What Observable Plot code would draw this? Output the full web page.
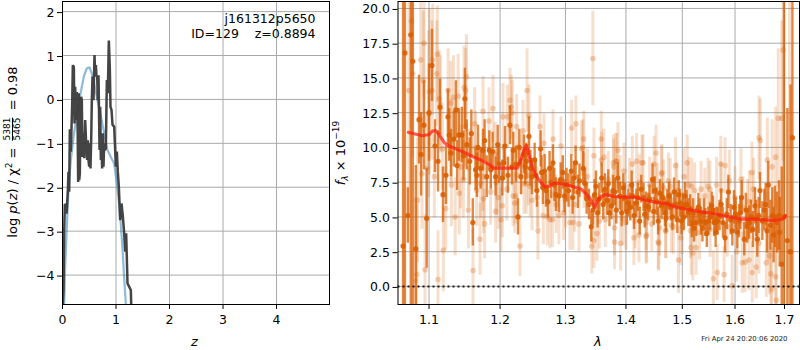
<!DOCTYPE html>
<html><head><meta charset="utf-8">
<script src="https://cdn.jsdelivr.net/npm/d3@7"></script>
<script src="https://cdn.jsdelivr.net/npm/@observablehq/plot@0.6"></script>
<style>
html,body{margin:0;padding:0;background:#fff}
#wrap{position:relative;width:800px;height:350px;overflow:hidden;font-family:"DejaVu Sans",sans-serif;color:#000}
#left,#right{position:absolute;top:0}
#left{left:0}#right{left:340px}
svg{display:block;background:transparent}
.lab{position:absolute;white-space:nowrap;font-size:13px;line-height:1}
.rot{transform:translate(-50%,-50%) rotate(-90deg);display:flex;align-items:center}
.frac{display:inline-flex;flex-direction:column;align-items:center;font-size:9px;line-height:8.5px;margin:0 3px}
.frac span:first-child{border-bottom:1px solid #000;padding-bottom:0}
i{font-style:oblique}
sub,sup{font-size:9px;line-height:0}
</style></head><body>
<div id="wrap">
<div id="left"></div><div id="right"></div>
<div class="lab rot" style="left:12px;top:152px"><span>log&nbsp;<i>p</i>(<i>z</i>)&nbsp;/&nbsp;χ<sup>2</sup>&nbsp;=&nbsp;</span><span class="frac"><span>5381</span><span>5465</span></span><span>&nbsp;=&nbsp;0.98</span></div>
<div class="lab rot" style="left:340px;top:153px"><span><i>f</i><sub><i>λ</i></sub>&nbsp;×&nbsp;10<sup>−19</sup></span></div>
<div class="lab" style="left:191px;top:335px"><i>z</i></div>
<div class="lab" style="left:594px;top:335px"><i>λ</i></div>
<div class="lab" style="right:12.5px;top:336px;font-size:6.9px;color:#222">Fri Apr 24 20:20:06 2020</div>
</div>
<script>
const zTicks=[0,1,2,3,4];
const pTicks=[-4,-3,-2,-1,0,1,2];
const waveTicks=[1.1,1.2,1.3,1.4,1.5,1.6,1.7];
const fluxTicks=[0,2.5,5,7.5,10,12.5,15,17.5,20];

const pzZ=[.006,.019,.031,.044,.062,.075,.087,.1,.112,.125,
.137,.156,.168,.181,.193,.212,.224,.237,.255,.268,
.28,.293,.305,.312,.324,.336,.349,.361,.374,.386,
.405,.424,.442,.461,.474,.486,.498,.511,.523,.536,
.548,.561,.579,.598,.611,.623,.636,.648,.66,.673,
.692,.704,.717,.729,.741,.754,.766,.779,.791,.81,
.829,.847,.866,.885,.897,.916,.935,.966,.997,1.016,
1.034,1.053,1.078,1.103,1.128,1.153,1.171,1.19,1.215,1.252,
1.277,1.284];
const pzLog=[-4.66,-4.34,-3.05,-2.38,-2.41,-2.6,-2.37,-2.07,-1.65,-2.1,
-.68,-1.19,-.66,-.09,.78,.74,-.55,.29,-.47,.17,
-.32,-1.88,.14,-1.84,-1.69,-.39,.06,-.02,-1.31,-.77,
-1.34,-.47,-1,-1.38,-.93,-1.38,-1.53,-1,-1.57,-.93,
-.02,.52,-.02,1.01,.52,.78,.52,.55,-.02,.55,
-1.15,-.17,-1.38,-1.08,-1.57,-.77,-1.53,-1,-1.15,-1.12,
.44,.14,1.34,.67,-.17,-.24,-.58,-.62,-1.53,-1.19,
-1.65,-1.99,-2.75,-2.37,-2.67,-3.05,-3.47,-3.05,-4.19,-4.28,
-4.34,-4.66];
const fitZ=[.031,.05,.081,.112,.156,.206,.255,.305,.361,.405,.455,.505,.548,.598,.654,.717,.779,.841,.903,.966,1.016,1.065,1.115,1.159,1.184];
const fitLog=[-4.66,-3.81,-2.9,-2.06,-1.38,-.85,-.47,-.09,.29,.55,.71,.73,.59,.32,-.02,-.39,-.77,-1.15,-1.31,-1.46,-1.91,-2.44,-3.28,-4.19,-4.66];

const darkWave=[1.0656,1.068,1.0718,1.0757,1.0783,1.0823,1.0866,1.0893,1.0933,1.0969,
1.1,1.104,1.1081,1.1122,1.1149,1.119,1.1231,1.1258,1.13,1.134,
1.1368,1.141,1.1451,1.1494,1.152,1.1563,1.1606,1.1645,1.168,1.1718,
1.1752,1.1805,1.1843,1.1891,1.1935,1.1984,1.2033,1.2072,1.2117,1.2146,
1.2196,1.2236,1.2266,1.2311,1.2357,1.2392,1.2432,1.2478,1.2519,1.2554,
1.2611,1.2647,1.2673,1.2724,1.2776,1.2803,1.285,1.2898,1.2958,1.3018,
1.3093,1.3135,1.3163,1.3201,1.3287,1.3342,1.3418,1.3445,1.3472,1.3522,
1.359,1.3644,1.3684,1.372,1.3778,1.3835,1.3862,1.3926,1.3981,1.4041,
1.4098,1.4139,1.4179,1.4238,1.4304,1.4349,1.4388,1.4463,1.4503,1.4563,
1.4624,1.4684,1.4726,1.4789,1.4849,1.4909,1.4958,1.5007,1.505,1.5112,
1.5175,1.5217,1.5298,1.5348,1.5405,1.5457,1.5487,1.555,1.5595,1.564,
1.5666,1.573,1.5806,1.5871,1.5948,1.6014,1.608,1.6131,1.6183,1.6242,
1.6316,1.6396,1.6443,1.6497,1.6585,1.6612,1.6666,1.6748,1.6803,1.6886,
1.6942,1.699,1.706,1.7125,1.7165,
1.1275,1.1385,1.1475,1.1585,1.1665,1.1775,1.1865,1.1965,1.2055,1.2175,
1.2285,1.2375,1.2455,1.2535,1.2625,1.2695,1.275,1.2825,1.2925,1.2985,
1.305,1.3115,1.3225,1.3315,1.338,1.3495,1.355,1.3615,1.37,1.3755,
1.381,1.3895,1.3955,1.4015,1.4075,1.4115,1.4205,1.4265,1.4325,1.441,
1.4485,1.4535,1.4595,1.465,1.4705,1.476,1.482,1.488,1.4935,1.4985,
1.503,1.508,1.5145,1.52,1.526,1.532,1.5375,1.543,1.552,1.5575,
1.5625,1.57,1.5765,1.584,1.5915,1.598,1.6045,1.6105,1.6215,1.628,
1.6355,1.642,1.647,1.6545,1.664,1.671,1.6775,1.6845,1.69];
const darkFlux=[2.9,16.8,5.1,18.1,16.2,2.7,12,9.5,11.6,4.9,
12.5,15.9,10.1,9,12.9,6.6,8,12.2,9.6,10.6,
12.7,10.9,10.9,13.5,10.2,9,4.6,8.4,10,8.5,
9.8,7.9,9.8,9.7,7.9,8.8,7.8,10.1,8,11.6,
9.8,8.8,5,7.9,9.5,9,10.8,7.9,9.1,6.9,
9.9,7.1,8.3,6.1,7.5,8.9,6.6,6.5,8.2,7.3,
8.3,7.8,8.9,6.8,8.5,6.3,4.3,5.5,6.6,5.3,
7.8,7,6.2,5.3,6.9,5.5,7.8,5.3,6.4,6,
7.3,5.1,6,4.7,6.4,5.8,5.7,7.7,6.9,4.7,
5.8,5.3,6,5.7,6.8,4.8,6,5.7,6.5,5.3,
4.5,4.2,5.7,4.7,5.3,3.8,4.7,5.8,4.6,4.7,
4.7,5.9,3.5,6.8,4,5.2,4.7,6.4,3.4,4.3,
5,5.8,3.4,6.9,5.5,5.9,7.3,5.1,5,5.1,
1.6,5,3.3,2.5,10.7,
10.9,8.7,9.4,11,8,10.5,8.4,10.2,8.9,8.6,
10,8.6,8.5,8,8.2,6.9,8.5,7.3,7.7,6.5,
6.9,6.4,7.6,7.4,5.9,7.2,6.3,5.9,7.4,5.8,
6.8,6.5,7.1,5.4,5.7,6.5,6.4,7,5.2,6.3,
5.4,6.1,6.7,6.4,4.9,6.5,5,5.9,6.6,4.7,
5,5.9,5.6,5.3,4.6,5.3,4.2,4.6,5,5.5,
3.9,5.1,4.6,5.2,4.8,5.7,3.9,5.3,5.5,4.6,
4.1,4.9,5.1,4.7,4,4.4,3.7,4.6,3.9];
const darkErr=[30,30,2,26,26,6,3.2,3,3.2,3.6,
3.5,2.6,1.9,2.2,2,2,2.1,2,1.7,2,
2.1,1.9,2,2.2,1.8,1.7,1.7,1.5,1.6,1.5,
1.5,1.5,1.4,1.4,1.4,1.4,1.3,1.4,1.3,1.4,
1.3,1.3,1.3,1.3,1.4,1.3,1.4,1.3,1.2,1.2,
1.3,1.2,1.2,1.2,1.2,1.3,1.2,1.2,1.2,1.2,
1.2,1.2,1.2,1.2,1.2,1.1,1.1,1.1,1.1,1.1,
1.1,1.1,1.1,1,1.1,1,1.1,1,1,1,
1,1,1,1,1,1,1,1.1,1,1,
1,1,1,1,1,1,1,1,1,1,
1,1,1,1,1,1,1,1,1,1,
1,1.1,1.1,1.2,1.1,1.2,1.2,1.2,1.2,1.2,
1.2,1.3,1.3,1.3,1.5,1.5,1.7,2,2.2,2.5,
7,30,9.5,12,30,
1.9,1.8,1.8,1.7,1.6,1.5,1.4,1.4,1.3,1.3,
1.3,1.3,1.3,1.2,1.2,1.2,1.2,1.2,1.2,1.2,
1.2,1.2,1.2,1.1,1.1,1.1,1.1,1.1,1,1,
1,1,1,1,1,1,1,1,1,1,
1,1,1,1,1,1,1,1,1,1,
1,1,1,1,1,1,1,1,1,1,
1.1,1.1,1.1,1.1,1.1,1.2,1.2,1.2,1.2,1.2,
1.3,1.3,1.3,1.4,1.6,1.8,2,2.2,2.5];

const lightWave=[1.0731,1.0766,1.0784,1.0823,1.0836,1.0845,1.0889,1.0906,1.0924,1.0933,
1.0946,1.0969,1.0996,1.1004,1.1041,1.1049,1.1072,1.1104,1.1113,1.1122,
1.114,1.1158,1.1181,1.1194,1.1227,1.126,1.1297,1.1306,1.1335,1.1358,
1.14,1.1415,1.1435,1.1472,1.1482,1.1506,1.1516,1.1544,1.1552,1.1609,
1.1632,1.1646,1.166,1.1708,1.1718,1.1752,1.1757,1.1775,1.1838,1.1862,
1.1896,1.1925,1.1935,1.1974,1.2013,1.2033,1.2043,1.2107,1.2146,1.2166,
1.2181,1.2191,1.2217,1.2246,1.2256,1.2296,1.2316,1.2342,1.2357,1.2392,
1.2403,1.2423,1.2432,1.2478,1.257,1.2601,1.2652,1.2663,1.2713,1.2756,
1.2803,1.2897,1.2929,1.3072,1.3099,1.3168,1.3217,1.3295,1.3281,1.326,
1.3353,1.3444,1.3461,1.3584,1.3627,1.3786,1.3825,1.3864,1.3966,1.4109,
1.4184,1.4296,1.4489,1.4525,1.463,1.4746,1.4877,1.5034,1.5091,1.5724,
1.5807,1.3426,1.3461,1.3511,1.3551,1.3806,1.3909,1.4137,1.4224,1.4359,
1.4573,1.4701,1.493,1.5163,1.5255,1.5194,1.5581,1.5655,1.5788,1.5944,
1.6141,1.62,1.6276,1.6342,1.6419,1.6625,1.6691,1.6717,1.6737,1.683,
1.6817,1.6477,1.6503,1.6646,1.6744,1.6817,1.687,1.6944,1.6971,1.7104,
1.4277,1.4624,1.5175,1.5515,1.5645,1.4349,1.4563,1.4696,1.4836,1.4971,
1.3587,1.3793,1.3844,1.3804,1.4,1.223,1.2794,1.2968,1.3119,1.589,
1.6,1.6117,1.6335,1.6368,1.6285,1.6154,1.6248,1.6477,1.6033,1.6658,
1.4412,1.455,1.466,1.478,1.49,1.512,1.523,1.535,1.542,1.548,
1.445,1.459,1.48,1.5,1.515,1.532,1.552,1.573,1.585,1.37,
1.39,1.406,1.423,1.365,1.395,1.416,1.435,1.33,1.315,1.3,
1.285,1.256,1.245,1.21,1.195,1.175,1.15,1.13];
const lightFlux=[14.1,19.1,15.3,.4,.85,6.2,16.3,8.1,14.8,17.5,
1.2,8.5,12.4,14,14.1,16.3,7.9,15.3,16.7,.5,
13.5,13.1,9.9,2.6,5.6,14.1,13.2,7.3,13.6,5,
13.7,6.7,8.6,7.7,14.3,14.1,15.1,5.5,8.5,1.15,
11.7,10,6.9,3.4,7.4,12.6,6.3,4.5,11.9,6.8,
12.8,9.5,5.4,6.4,4.8,5.8,12.2,12.2,13.4,12.9,
12.5,6.5,6,11.5,8,2.9,8.8,11.2,7.4,7.4,
14.1,8,12.3,6.2,4,11.5,5.1,10.3,5,4.8,
10.6,5.1,10.1,4.6,11.4,11.7,4.5,10.6,10,9.9,
7.9,16.4,9.4,10.6,9.3,8.9,9,9.8,8.3,8.8,
9,8.9,8.8,9.6,8.2,7.6,8.7,7.9,8.9,8.8,
8.7,2.9,3.3,3.8,4.7,3.2,3.1,3.5,3.7,3.7,
3.1,4,1.9,2.8,2.8,2.4,.55,1,.85,.05,
1.7,1.75,1.9,1,1.4,1.7,2.2,.9,-.2,-1,
.7,10.7,10.5,9.1,8.6,9.3,12.1,12.1,17,2.5,
8.9,8.1,7.2,7,7.3,3.6,3.2,4,4.3,3.5,
9.1,8.6,9,4.2,4.6,6.5,4.8,5.3,4.6,7.6,
6.4,7.7,8.2,7,6.1,5.7,5.5,3.1,2.5,4.3,
7.3,6.8,7.1,7.2,6.9,7.3,6.9,7,6.5,7.2,
4.5,4.2,4.4,4.3,4,3.9,4.1,6.9,4.3,7.7,
7.4,7.2,7.5,4.8,4.9,4.7,4.6,7.6,5.9,6.2,
5.9,6.4,7.2,7,7.5,7.9,11.5,10.5];
const lightErr=[9,8,6,6,5,4.5,5,4,5,4,
4,3.8,6,6,5,4,3,3.8,3.5,3.5,
3.5,3.5,3,3,3,3,3,3,3,2.8,
3,3,3,2.8,3,3,3,2.8,2.8,3,
2.6,2.6,2.6,2.6,2.5,2.5,2.5,2.5,2.4,2.4,
2.4,2.3,2.3,2.3,2.3,2.3,2.4,2.3,2.3,2.3,
2.3,2.2,2.2,2.3,2.2,2.2,2.2,2.2,2.2,2.2,
3,2.2,2.2,2.2,2.1,2.2,2.1,2.1,2.1,2.1,
2.1,2.1,2.1,2,2,2,2,2,2,2,
2,3.4,2,2,2,2,2,2,2,2,
2,2,2,2,2,2,2,2,2,2,
2,2,2,2,2,2,2,2,2,2,
2,2,2.4,2,2,2,2,2,2,2.2,
2.2,2.2,2.2,2.2,2.3,2.5,2.8,2.8,3,5,
4,3,3,3,3.4,3.6,5,7,8,20,
2,2,2,2,2,2,2,2,2,2,
2,2,2,2,2,2,2,2,2,2.2,
2.2,2.2,2.2,2.2,2.2,2.2,2.2,2.2,2.2,2.5,
2,2,2,2,2,2,2,2,2,2,
2,2,2,2,2,2,2,2,2.2,2,
2,2,2,2,2,2,2,2,2,2,
2.1,2.2,2.2,2.3,2.4,2.5,2.9,3];

const modelWave=[1.0725,1.08,1.091,1.1,1.1045,1.1086,1.1135,1.1204,1.1259,1.1365,1.1481,1.1599,1.1718,1.1838,1.1911,1.2033,1.2156,1.2256,1.2306,1.2357,1.2392,1.2432,1.2483,1.2534,1.2611,1.2678,1.274,1.2818,1.2924,1.3029,1.3135,1.3244,1.3322,1.3381,1.3431,1.3476,1.3517,1.3577,1.3662,1.3792,1.3966,1.4137,1.4309,1.4515,1.472,1.4877,1.5034,1.5284,1.5597,1.5917,1.6141,1.6419,1.6744,1.6905,1.6971,1.702];
const modelFlux=[11.08,10.98,10.84,10.93,11.17,11.22,10.93,10.38,10.14,9.9,9.66,9.35,9.11,8.78,8.51,8.51,8.51,8.51,9.06,9.83,10.14,9.42,8.6,8,7.5,7.15,7.2,7.43,7.41,7.31,7.15,7.03,6.71,6.43,6.02,5.71,6.12,6.47,6.62,6.47,6.43,6.43,6.24,6.07,5.95,5.71,5.59,5.42,5.23,4.99,4.84,4.84,4.75,4.8,4.87,5.1];

const titleLines=["j161312p5650","ID=129\u00a0\u00a0\u00a0\u00a0z=0.8894"];
const gridColor="#aaaaaa", orange="#d95f02";
const font={fontFamily:"'DejaVu Sans',sans-serif",fontSize:"12.5px",background:"transparent",color:"#000"};
const range=a=>a.map((_,i)=>i);

const left=Plot.plot({
  width:340,height:350,marginLeft:62,marginRight:11,marginTop:1,marginBottom:46,style:font,
  x:{domain:[0,4.99]},y:{domain:[-4.67,2.23]},
  marks:[
    Plot.gridX(zTicks,{stroke:gridColor,strokeOpacity:1,strokeWidth:1}),
    Plot.gridY(pTicks,{stroke:gridColor,strokeOpacity:1,strokeWidth:1}),
    Plot.line(range(fitZ),{x:i=>fitZ[i],y:i=>fitLog[i],stroke:"#1f77b4",strokeOpacity:.5,strokeWidth:2.2,clip:true,curve:"linear"}),
    Plot.line(range(pzZ),{x:i=>pzZ[i],y:i=>pzLog[i],stroke:"#3a3a3a",strokeOpacity:.95,strokeWidth:2.5,strokeLinejoin:"bevel",clip:true,curve:"linear"}),
    Plot.axisX(zTicks,{tickSize:5,tickPadding:6,label:null,tickFormat:d=>String(d)}),
    Plot.axisY(pTicks,{tickSize:5,tickPadding:3,label:null,dy:1}),
    Plot.text(titleLines.slice(0,1),{text:d=>d,frameAnchor:"top-right",textAnchor:"end",dx:-14,lineAnchor:"top",fontSize:12.5,fill:"#000",dy:13}),
    Plot.text(titleLines.slice(1),{text:d=>d,frameAnchor:"top-right",textAnchor:"end",dx:-14,lineAnchor:"top",fontSize:12.5,fill:"#000",dy:28}),
    Plot.frame({stroke:"#000",strokeWidth:1})
  ]
});
document.getElementById("left").append(left);

const right=Plot.plot({
  width:460,height:350,marginLeft:57.5,marginRight:1,marginTop:1,marginBottom:46,style:font,
  x:{type:"log",domain:[1.059,1.7315]},y:{domain:[-1.3,20.5]},
  marks:[
    Plot.gridX(waveTicks,{stroke:gridColor,strokeOpacity:1,strokeWidth:1}),
    Plot.gridY(fluxTicks,{stroke:gridColor,strokeOpacity:1,strokeWidth:1}),
    Plot.ruleX(range(lightWave),{x:i=>lightWave[i],y1:i=>lightFlux[i]-lightErr[i],y2:i=>lightFlux[i]+lightErr[i],stroke:orange,strokeOpacity:.2,strokeWidth:3,clip:true}),
    Plot.dot(range(lightWave),{x:i=>lightWave[i],y:i=>lightFlux[i],r:2.8,fill:orange,fillOpacity:.28,clip:true}),
    Plot.ruleX(range(darkWave),{x:i=>darkWave[i],y1:i=>darkFlux[i]-darkErr[i],y2:i=>darkFlux[i]+darkErr[i],stroke:orange,strokeOpacity:.75,strokeWidth:2.4,clip:true}),
    Plot.dot(range(darkWave),{x:i=>darkWave[i],y:i=>darkFlux[i],r:2.6,fill:orange,fillOpacity:.9,clip:true}),
    Plot.ruleY([0],{stroke:"#000",strokeOpacity:.85,strokeWidth:2,strokeDasharray:"2,3"}),
    Plot.line(range(modelWave),{x:i=>modelWave[i],y:i=>modelFlux[i],stroke:"#ff1f10",strokeOpacity:.72,strokeWidth:3.2,clip:true,curve:"linear"}),
    Plot.axisX(waveTicks,{tickSize:5,tickPadding:6,label:null,tickFormat:d=>d.toFixed(1)}),
    Plot.axisY(fluxTicks,{tickSize:5,tickPadding:3,label:null,dy:1,tickFormat:d=>d.toFixed(1)}),
    Plot.frame({stroke:"#000",strokeWidth:1})
  ]
});
document.getElementById("right").append(right);
</script>
</body></html>
